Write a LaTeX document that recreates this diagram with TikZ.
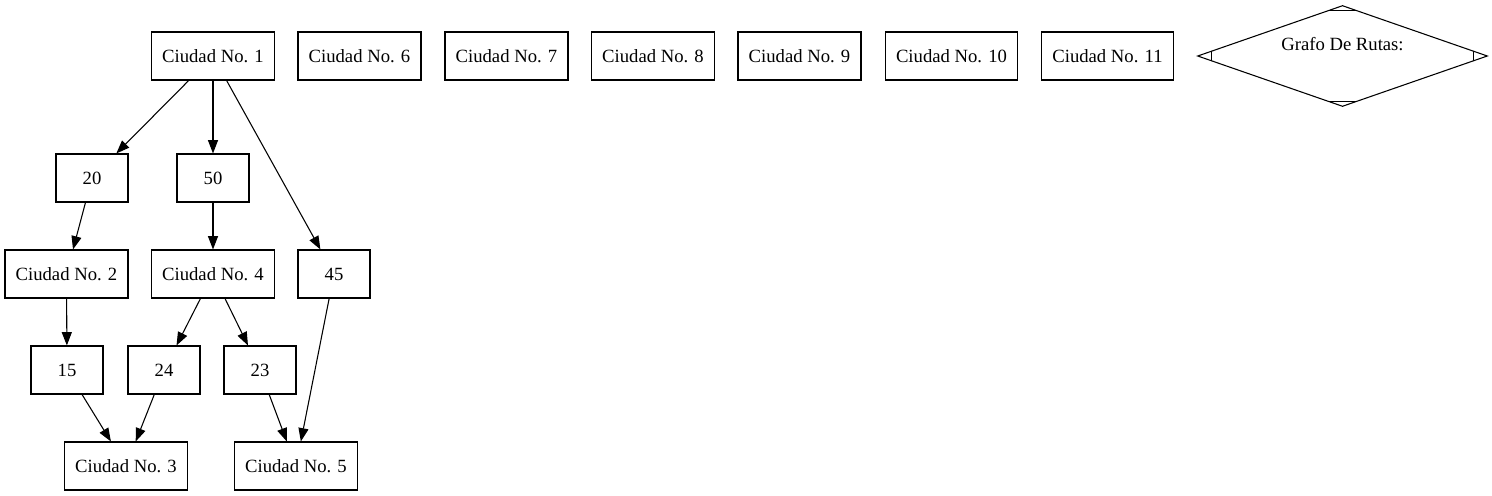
\documentclass[tikz,border=0pt]{standalone}
\usepackage{fontspec}
\setmainfont{Liberation Serif}
\usetikzlibrary{arrows.meta,shapes.geometric,calc}
\begin{document}
\begin{tikzpicture}[x=0.75pt,y=-0.75pt,line width=0.8pt,
	ciudad/.style={draw,rectangle,minimum width=54pt,minimum height=36pt,inner xsep=8pt,font=\fontsize{14}{16.8}\selectfont},
	ruta/.style={-{Triangle[length=10pt,width=7.5pt]}}]
	\useasboundingbox (0,0) rectangle (1492,496);

	\node[ciudad] (c1) at (213,56) {Ciudad No. 1};
	\node[ciudad] (c6) at (359.5,56) {Ciudad No. 6};
	\node[ciudad] (c7) at (506.5,56) {Ciudad No. 7};
	\node[ciudad] (c8) at (653,56) {Ciudad No. 8};
	\node[ciudad] (c9) at (799.5,56) {Ciudad No. 9};
	\node[ciudad] (c10) at (951.5,56) {Ciudad No. 10};
	\node[ciudad] (c11) at (1107.5,56) {Ciudad No. 11};

	\node[draw,diamond,minimum width=217.5pt,minimum height=75.75pt,inner sep=0pt,font=\fontsize{14}{16.8}\selectfont] (grafo) at (1342.5,56) {\smash{\raisebox{4.5pt}{\makebox[0pt]{Grafo De Rutas:}}}};
	\draw ($(grafo.north)!0.1!(grafo.west)$) -- ($(grafo.north)!0.1!(grafo.east)$);
	\draw ($(grafo.south)!0.1!(grafo.west)$) -- ($(grafo.south)!0.1!(grafo.east)$);
	\draw ($(grafo.west)!0.1!(grafo.north)$) -- ($(grafo.west)!0.1!(grafo.south)$);
	\draw ($(grafo.east)!0.1!(grafo.north)$) -- ($(grafo.east)!0.1!(grafo.south)$);

	\node[ciudad] (d20) at (92,178) {20};
	\node[ciudad] (d50) at (213,178) {50};
	\node[ciudad] (c2) at (66.5,274) {Ciudad No. 2};
	\node[ciudad] (c4) at (213,274) {Ciudad No. 4};
	\node[ciudad] (d45) at (334,274) {45};
	\node[ciudad] (d15) at (67,370) {15};
	\node[ciudad] (d24) at (164,370) {24};
	\node[ciudad] (d23) at (260,370) {23};
	\node[ciudad] (c3) at (126,466) {Ciudad No. 3};
	\node[ciudad] (c5) at (296,466) {Ciudad No. 5};

	\draw[ruta] (c1) -- (d20);
	\draw[ruta] (c1) -- (d50);
	\draw[ruta] (c1) -- (d45);
	\draw[ruta] (d20) -- (c2);
	\draw[ruta] (d50) -- (c4);
	\draw[ruta] (c2) -- (d15);
	\draw[ruta] (c4) -- (d24);
	\draw[ruta] (c4) -- (d23);
	\draw[ruta] (d15) -- (c3);
	\draw[ruta] (d24) -- (c3);
	\draw[ruta] (d23) -- (c5);
	\draw[ruta] (d45) -- (c5);

\end{tikzpicture}
\end{document}
